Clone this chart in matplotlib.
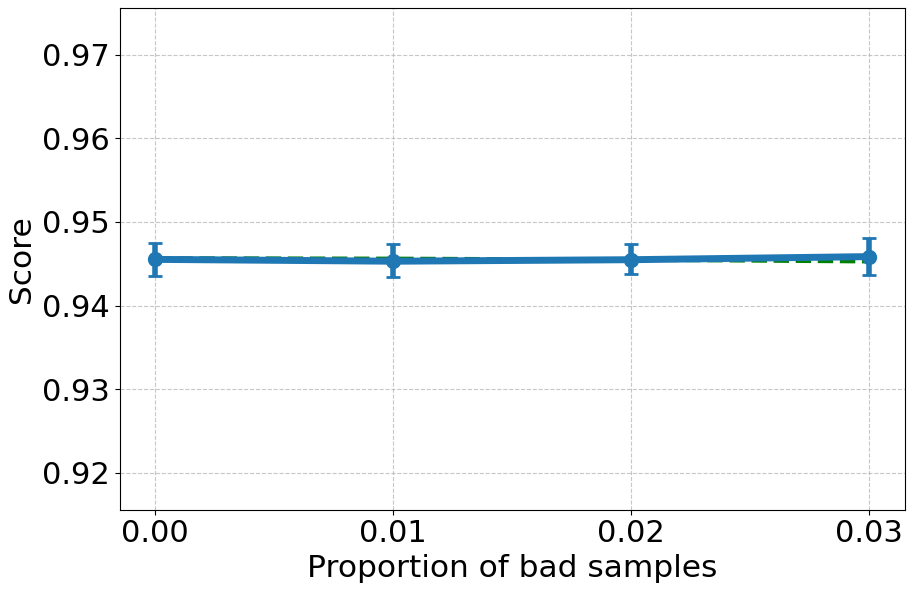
import numpy as np
from matplotlib import pyplot as plt

# proportion of bad samples vs score
props = [0.00, 0.01, 0.02, 0.03]
score_mean = [0.94552, 0.94530, 0.94548, 0.94585]
score_lo = [0.94355, 0.94340, 0.94375, 0.94360]
score_hi = [0.94750, 0.94740, 0.94735, 0.94810]
baseline = [0.94565, 0.94560, 0.94548, 0.94528]

yerr = [np.array(score_mean) - np.array(score_lo),
        np.array(score_hi) - np.array(score_mean)]

fig, ax = plt.subplots(figsize=(9.13, 5.92), dpi=100)

ax.plot(props, baseline, '--', color='green', lw=3)
ax.errorbar(props, score_mean, yerr=yerr, fmt='-o', color='tab:blue',
            lw=5, ms=10, elinewidth=4, capsize=5, capthick=2)

ax.set_ylim(0.9156, 0.9756)
ax.set_xticks(props)
ax.set_xticklabels(['0.00', '0.01', '0.02', '0.03'])
ax.set_yticks([0.92, 0.93, 0.94, 0.95, 0.96, 0.97])
ax.tick_params(labelsize=22)
ax.set_xlabel('Proportion of bad samples', fontsize=22.5)
ax.set_ylabel('Score', fontsize=22.5)
ax.grid(True, linestyle='--', alpha=0.7)

plt.subplots_adjust(left=0.131, right=0.991, top=0.987, bottom=0.139)
plt.savefig('out.png')
